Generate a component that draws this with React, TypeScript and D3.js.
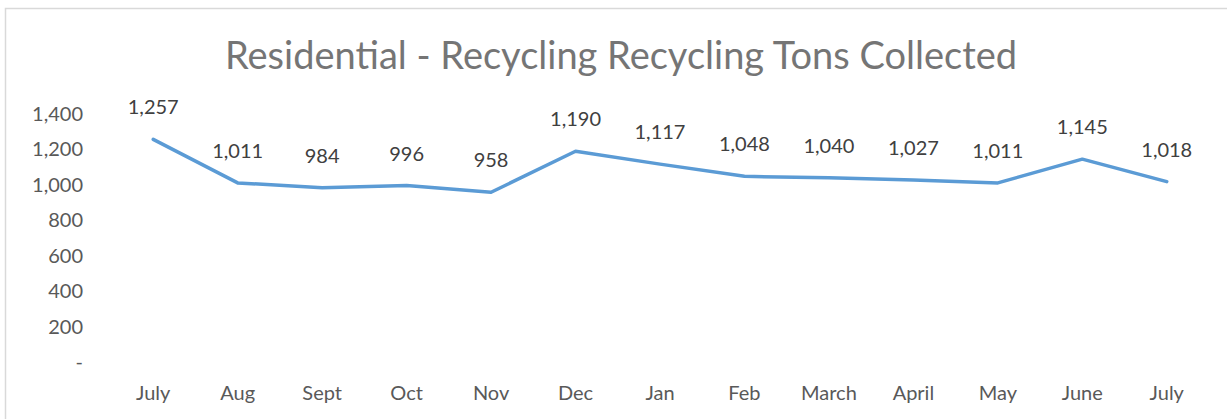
import React from "react";
import * as d3 from "d3";

const months = ["July", "Aug", "Sept", "Oct", "Nov", "Dec", "Jan", "Feb", "March", "April", "May", "June", "July "];
const tons = [1257, 1011, 984, 996, 958, 1190, 1117, 1048, 1040, 1027, 1011, 1145, 1018];
const yTicks = [0, 200, 400, 600, 800, 1000, 1200, 1400];

const W = 1227;
const H = 419;
const font = "Lato, 'Open Sans', sans-serif";

const App: React.FC = () => {
  const left = 111;
  const right = 1209;
  const top = 114;
  const bottom = 362;

  const x = d3.scaleBand().domain(months).range([left, right]);
  const y = d3.scaleLinear().domain([0, 1400]).range([bottom, top]);

  const line = d3
    .line<number>()
    .x((_, i) => (x(months[i]) || 0) + x.bandwidth() / 2)
    .y((d) => y(d));

  const fmt = d3.format(",");

  return (
    <svg width={W} height={H} style={{ position: "absolute", left: 0, top: 0 }}>
      <rect x={0} y={0} width={W} height={H} fill="#fff" />
      <rect x={5.5} y={8.5} width={1240} height={440} fill="none" stroke="#d9d9d9" strokeWidth={1.5} />

      <text x={621} y={69} textAnchor="middle" fontFamily={font} fontSize={38} fill="#757575">
        Residential - Recycling Recycling Tons Collected
      </text>

      {/* y axis */}
      {yTicks.map((t) => (
        <text
          key={t}
          x={83}
          y={y(t)}
          dy="0.35em"
          textAnchor="end"
          fontFamily={font}
          fontSize={20}
          fill="#595959"
        >
          {t === 0 ? "-" : fmt(t)}
        </text>
      ))}

      {/* x axis */}
      {months.map((m) => (
        <text
          key={m}
          x={(x(m) || 0) + x.bandwidth() / 2}
          y={393}
          dy="0.35em"
          textAnchor="middle"
          fontFamily={font}
          fontSize={20}
          fill="#595959"
        >
          {m.trim()}
        </text>
      ))}

      <path d={line(tons) || ""} fill="none" stroke="#5b9bd5" strokeWidth={3.5} strokeLinejoin="round" strokeLinecap="round" />

      {tons.map((v, i) => (
        <text
          key={i}
          x={(x(months[i]) || 0) + x.bandwidth() / 2}
          y={y(v) - 32}
          dy="0.35em"
          textAnchor="middle"
          fontFamily={font}
          fontSize={20}
          fill="#404040"
        >
          {fmt(v)}
        </text>
      ))}
    </svg>
  );
};

export default App;
